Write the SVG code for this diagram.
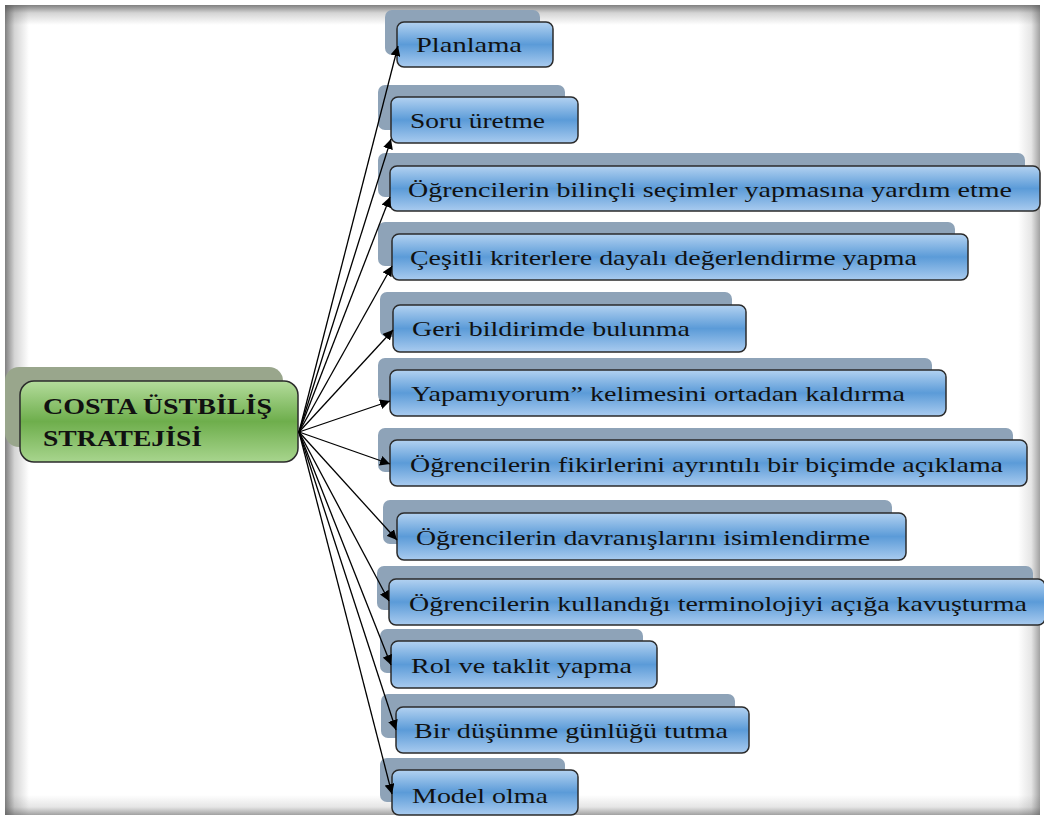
<svg xmlns="http://www.w3.org/2000/svg" width="1044" height="819" viewBox="0 0 1044 819">
  <defs>
    <linearGradient id="blueFill" x1="0" y1="0" x2="0" y2="1">
      <stop offset="0" stop-color="#b3d2f1"/>
      <stop offset="0.5" stop-color="#5b9bd8"/>
      <stop offset="1" stop-color="#a9cbef"/>
    </linearGradient>
    <linearGradient id="greenFill" x1="0" y1="0" x2="0" y2="1">
      <stop offset="0" stop-color="#b4dc9c"/>
      <stop offset="0.5" stop-color="#6eae4c"/>
      <stop offset="1" stop-color="#a8d58e"/>
    </linearGradient>
    <linearGradient id="edgeL" x1="0" y1="0" x2="1" y2="0">
      <stop offset="0" stop-color="#555" stop-opacity="0.75"/>
      <stop offset="0.4" stop-color="#555" stop-opacity="0.25"/>
      <stop offset="1" stop-color="#555" stop-opacity="0"/>
    </linearGradient>
    <linearGradient id="edgeT" x1="0" y1="0" x2="0" y2="1">
      <stop offset="0" stop-color="#555" stop-opacity="0.75"/>
      <stop offset="0.4" stop-color="#555" stop-opacity="0.25"/>
      <stop offset="1" stop-color="#555" stop-opacity="0"/>
    </linearGradient>
    <linearGradient id="edgeR" x1="1" y1="0" x2="0" y2="0">
      <stop offset="0" stop-color="#555" stop-opacity="0.55"/>
      <stop offset="0.4" stop-color="#555" stop-opacity="0.15"/>
      <stop offset="1" stop-color="#555" stop-opacity="0"/>
    </linearGradient>
    <linearGradient id="edgeB" x1="0" y1="1" x2="0" y2="0">
      <stop offset="0" stop-color="#555" stop-opacity="0.55"/>
      <stop offset="0.4" stop-color="#555" stop-opacity="0.15"/>
      <stop offset="1" stop-color="#555" stop-opacity="0"/>
    </linearGradient>
    <marker id="arrow" viewBox="0 0 10 10" refX="10" refY="5" markerWidth="10" markerHeight="10" markerUnits="userSpaceOnUse" orient="auto">
      <path d="M0,0 L10,5 L0,10 z" fill="#000"/>
    </marker>
  </defs>
  <style>
    .shadow { fill: #8ea3b8; }
    .box { fill: url(#blueFill); stroke: #2b2b2b; stroke-width: 1.5; }
    .gshadow { fill: #99a68c; }
    .gbox { fill: url(#greenFill); stroke: #2b2b2b; stroke-width: 1.5; }
    .label { font-family: "Liberation Serif", "Times New Roman", serif; font-size: 22px; fill: #111; }
    .title { font-family: "Liberation Serif", "Times New Roman", serif; font-size: 23px; font-weight: bold; fill: #111; }
    .conn line { stroke: #000; stroke-width: 1.3; marker-end: url(#arrow); }
  </style>

  <!-- page frame with soft inner shading -->
  <rect x="0" y="0" width="1044" height="819" fill="#fff"/>
  <rect x="5" y="5" width="24" height="810" fill="url(#edgeL)"/>
  <rect x="5" y="5" width="1035" height="20" fill="url(#edgeT)"/>
  <rect x="1018" y="5" width="22" height="810" fill="url(#edgeR)"/>
  <rect x="5" y="795" width="1035" height="20" fill="url(#edgeB)"/>

  <!-- central node -->
  <g id="costa">
    <rect class="gshadow" x="5" y="367" width="278" height="80" rx="14"/>
    <rect class="gbox" x="20" y="381" width="278" height="81" rx="14"/>
    <text class="title" x="43" y="414" textLength="229" lengthAdjust="spacingAndGlyphs">COSTA ÜSTBİLİŞ</text>
    <text class="title" x="43" y="446" textLength="159" lengthAdjust="spacingAndGlyphs">STRATEJİSİ</text>
  </g>

  <!-- strategy nodes -->
  <g id="planlama">
    <rect class="shadow" x="385" y="10" width="155" height="45" rx="7"/>
    <rect class="box" x="397" y="22" width="156" height="45" rx="7"/>
    <text class="label" x="416" y="52" textLength="106" lengthAdjust="spacingAndGlyphs">Planlama</text>
  </g>
  <g id="soru">
    <rect class="shadow" x="378" y="85" width="187" height="45" rx="7"/>
    <rect class="box" x="391" y="97" width="187" height="46" rx="7"/>
    <text class="label" x="410" y="128" textLength="135" lengthAdjust="spacingAndGlyphs">Soru üretme</text>
  </g>
  <g id="secim">
    <rect class="shadow" x="378" y="153" width="647" height="44" rx="7"/>
    <rect class="box" x="390" y="166" width="650" height="45" rx="7"/>
    <text class="label" x="408" y="197" textLength="604" lengthAdjust="spacingAndGlyphs">Öğrencilerin bilinçli seçimler yapmasına yardım etme</text>
  </g>
  <g id="kriter">
    <rect class="shadow" x="378" y="222" width="577" height="44" rx="7"/>
    <rect class="box" x="392" y="234" width="576" height="46" rx="7"/>
    <text class="label" x="410" y="265" textLength="507" lengthAdjust="spacingAndGlyphs">Çeşitli kriterlere dayalı değerlendirme yapma</text>
  </g>
  <g id="geri">
    <rect class="shadow" x="380" y="292" width="352" height="45" rx="7"/>
    <rect class="box" x="393" y="305" width="353" height="47" rx="7"/>
    <text class="label" x="412" y="336" textLength="278" lengthAdjust="spacingAndGlyphs">Geri bildirimde bulunma</text>
  </g>
  <g id="yapamiyorum">
    <rect class="shadow" x="378" y="358" width="554" height="44" rx="7"/>
    <rect class="box" x="390" y="370" width="556" height="46" rx="7"/>
    <text class="label" x="411" y="401" textLength="494" lengthAdjust="spacingAndGlyphs">Yapamıyorum” kelimesini ortadan kaldırma</text>
  </g>
  <g id="fikir">
    <rect class="shadow" x="378" y="428" width="635" height="44" rx="7"/>
    <rect class="box" x="390" y="440" width="637" height="46" rx="7"/>
    <text class="label" x="410" y="472" textLength="593" lengthAdjust="spacingAndGlyphs">Öğrencilerin fikirlerini ayrıntılı bir biçimde açıklama</text>
  </g>
  <g id="davranis">
    <rect class="shadow" x="383" y="500" width="509" height="44" rx="7"/>
    <rect class="box" x="397" y="513" width="509" height="47" rx="7"/>
    <text class="label" x="416" y="545" textLength="454" lengthAdjust="spacingAndGlyphs">Öğrencilerin davranışlarını isimlendirme</text>
  </g>
  <g id="terminoloji">
    <rect class="shadow" x="377" y="566" width="656" height="44" rx="7"/>
    <rect class="box" x="389" y="579" width="656" height="46" rx="7"/>
    <text class="label" x="409" y="611" textLength="618" lengthAdjust="spacingAndGlyphs">Öğrencilerin kullandığı terminolojiyi açığa kavuşturma</text>
  </g>
  <g id="rol">
    <rect class="shadow" x="380" y="629" width="263" height="44" rx="7"/>
    <rect class="box" x="391" y="641" width="266" height="47" rx="7"/>
    <text class="label" x="411" y="673" textLength="221" lengthAdjust="spacingAndGlyphs">Rol ve taklit yapma</text>
  </g>
  <g id="gunluk">
    <rect class="shadow" x="381" y="694" width="354" height="44" rx="7"/>
    <rect class="box" x="396" y="707" width="353" height="46" rx="7"/>
    <text class="label" x="414" y="738" textLength="314" lengthAdjust="spacingAndGlyphs">Bir düşünme günlüğü tutma</text>
  </g>
  <g id="model">
    <rect class="shadow" x="380" y="758" width="185" height="44" rx="7"/>
    <rect class="box" x="392" y="770" width="186" height="45" rx="7"/>
    <text class="label" x="412" y="803" textLength="136" lengthAdjust="spacingAndGlyphs">Model olma</text>
  </g>

  <!-- connectors from the central node -->
  <g class="conn">
    <line x1="299" y1="432" x2="398" y2="46"/>
    <line x1="299" y1="432" x2="391" y2="139"/>
    <line x1="299" y1="432" x2="390" y2="197"/>
    <line x1="299" y1="432" x2="392" y2="266"/>
    <line x1="299" y1="432" x2="393" y2="330"/>
    <line x1="299" y1="432" x2="390" y2="401"/>
    <line x1="299" y1="432" x2="390" y2="464"/>
    <line x1="299" y1="432" x2="397" y2="540"/>
    <line x1="299" y1="432" x2="389" y2="601"/>
    <line x1="299" y1="432" x2="391" y2="665"/>
    <line x1="299" y1="432" x2="396" y2="730"/>
    <line x1="299" y1="432" x2="392" y2="794"/>
  </g>
</svg>
